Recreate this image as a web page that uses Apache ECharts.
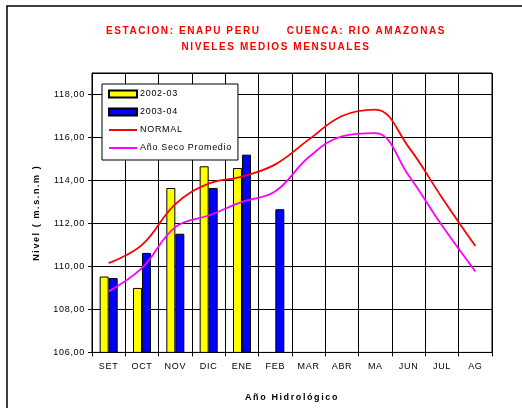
<!DOCTYPE html>
<html>
<head>
<meta charset="utf-8">
<script src="https://cdn.jsdelivr.net/npm/echarts@6/dist/echarts.min.js"></script>
<style>html,body{margin:0;padding:0;background:#fff;}#c{width:522px;height:408px;}</style>
</head>
<body>
<div id="c"></div>
<script>
const categories = ['SET','OCT','NOV','DIC','ENE','FEB','MAR','ABR','MA','JUN','JUL','AG'];
const serie0203 = [109.53, 109.00, 113.65, 114.66, 114.58, null, null, null, null, null, null, null];
const serie0304 = [109.46, 110.63, 111.52, 113.65, 115.20, 112.66, null, null, null, null, null, null];
const normal = [110.15, 111.00, 112.90, 113.85, 114.18, 114.75, 115.90, 117.00, 117.30, 115.55, 113.20, 110.95];
const secoPromedio = [108.84, 109.93, 111.83, 112.37, 113.00, 113.50, 115.08, 116.05, 116.20, 114.23, 111.90, 109.77];
const yTicks = { min: 106, max: 119, interval: 2 };

// letter spacing emulation (canvas letterSpacing)
function spacingFor(font) { return /bold/.test(font) ? '1.6px' : '0.7px'; }
const mCanvas = document.createElement('canvas');
const mctx = mCanvas.getContext('2d');
if (echarts.setPlatformAPI) {
  echarts.setPlatformAPI({
    measureText: function (text, font) {
      mctx.font = font || '12px sans-serif';
      mctx.letterSpacing = spacingFor(mctx.font);
      return mctx.measureText(text);
    }
  });
}
const origFill = CanvasRenderingContext2D.prototype.fillText;
CanvasRenderingContext2D.prototype.fillText = function (t, x, y, m) {
  this.letterSpacing = spacingFor(this.font);
  return m === undefined ? origFill.call(this, t, x, y) : origFill.call(this, t, x, y, m);
};

const LINE_ICON = 'path://M0,0h0.01v0.01h-0.01z M0,2.6h28v1.8H0z M0,6.99h0.01v0.01h-0.01z';
const FONT = 'Liberation Sans, Arial, sans-serif';
const chart = echarts.init(document.getElementById('c'), null, { renderer: 'canvas' });
chart.setOption({
  animation: false,
  backgroundColor: '#fff',
  title: {
    text: 'ESTACION: ENAPU PERU      CUENCA: RIO AMAZONAS\nNIVELES MEDIOS MENSUALES',
    left: 271, top: 18, textAlign: 'center',
    textStyle: { color: '#FF0000', fontFamily: FONT, fontWeight: 'bold', fontSize: 10, lineHeight: 16 }
  },
  graphic: [{
    type: 'rect', shape: { x: 7, y: 6, width: 530, height: 420 },
    style: { fill: null, stroke: '#000', lineWidth: 1.5 }, silent: true, z: -1
  }],
  legend: {
    orient: 'vertical', left: 102, top: 84,
    padding: [4, 6, 6, 6],
    backgroundColor: '#fff', borderColor: '#000', borderWidth: 1,
    itemWidth: 28, itemHeight: 7, itemGap: 6,
    textStyle: { fontFamily: FONT, fontSize: 9, color: '#000', lineHeight: 12, padding: [0, 0, 0, -2] },
    data: [
      { name: '2002-03', icon: 'rect' },
      { name: '2003-04', icon: 'rect' },
      { name: 'NORMAL', icon: LINE_ICON, itemStyle: { color: '#FF0000', borderWidth: 0 } },
      { name: 'Año Seco Promedio', icon: LINE_ICON, itemStyle: { color: '#FF00FF', borderWidth: 0 } }
    ]
  },
  grid: { left: 92, right: 30, top: 73, bottom: 55, show: true, borderColor: '#000', borderWidth: 1 },
  xAxis: {
    type: 'category', data: categories, boundaryGap: true,
    name: 'Año Hidrológico', nameLocation: 'middle', nameGap: 40,
    nameTextStyle: { fontFamily: FONT, fontWeight: 'bold', fontSize: 9, color: '#000' },
    axisLine: { lineStyle: { color: '#000', width: 1 } },
    axisTick: { show: true, length: 4, lineStyle: { color: '#000' } },
    axisLabel: { fontFamily: FONT, fontSize: 9, color: '#000', margin: 9, interval: 0 },
    splitLine: { show: true, lineStyle: { color: '#000', width: 1 } }
  },
  yAxis: {
    type: 'value', min: yTicks.min, max: yTicks.max, interval: yTicks.interval,
    name: 'Nivel ( m.s.n.m )', nameLocation: 'middle', nameGap: 50, nameRotate: 90,
    nameTextStyle: { fontFamily: FONT, fontWeight: 'bold', fontSize: 9, color: '#000' },
    axisLine: { show: true, lineStyle: { color: '#000', width: 1 } },
    axisTick: { show: true, length: 4, lineStyle: { color: '#000' } },
    axisLabel: {
      fontFamily: FONT, fontSize: 9, color: '#000', margin: 7, showMaxLabel: false,
      formatter: v => (v > 118.5 ? '' : v.toFixed(2).replace('.', ','))
    },
    splitLine: { show: true, lineStyle: { color: '#000', width: 1 } }
  },
  series: [
    { name: '2002-03', type: 'bar', data: serie0203, barWidth: 9, barGap: '0%',
      itemStyle: { color: '#FFFF00', borderColor: '#000', borderWidth: 1 } },
    { name: '2003-04', type: 'bar', data: serie0304, barWidth: 9, barGap: '0%',
      itemStyle: { color: '#0000FF', borderColor: '#000', borderWidth: 1 } },
    { name: 'NORMAL', type: 'line', data: normal, smooth: 0.4, symbol: 'none',
      lineStyle: { color: '#FF0000', width: 1.8 }, itemStyle: { color: '#FF0000' }, z: 5 },
    { name: 'Año Seco Promedio', type: 'line', data: secoPromedio, smooth: 0.4, symbol: 'none',
      lineStyle: { color: '#FF00FF', width: 1.8 }, itemStyle: { color: '#FF00FF' }, z: 5 }
  ]
});
</script>
</body>
</html>
